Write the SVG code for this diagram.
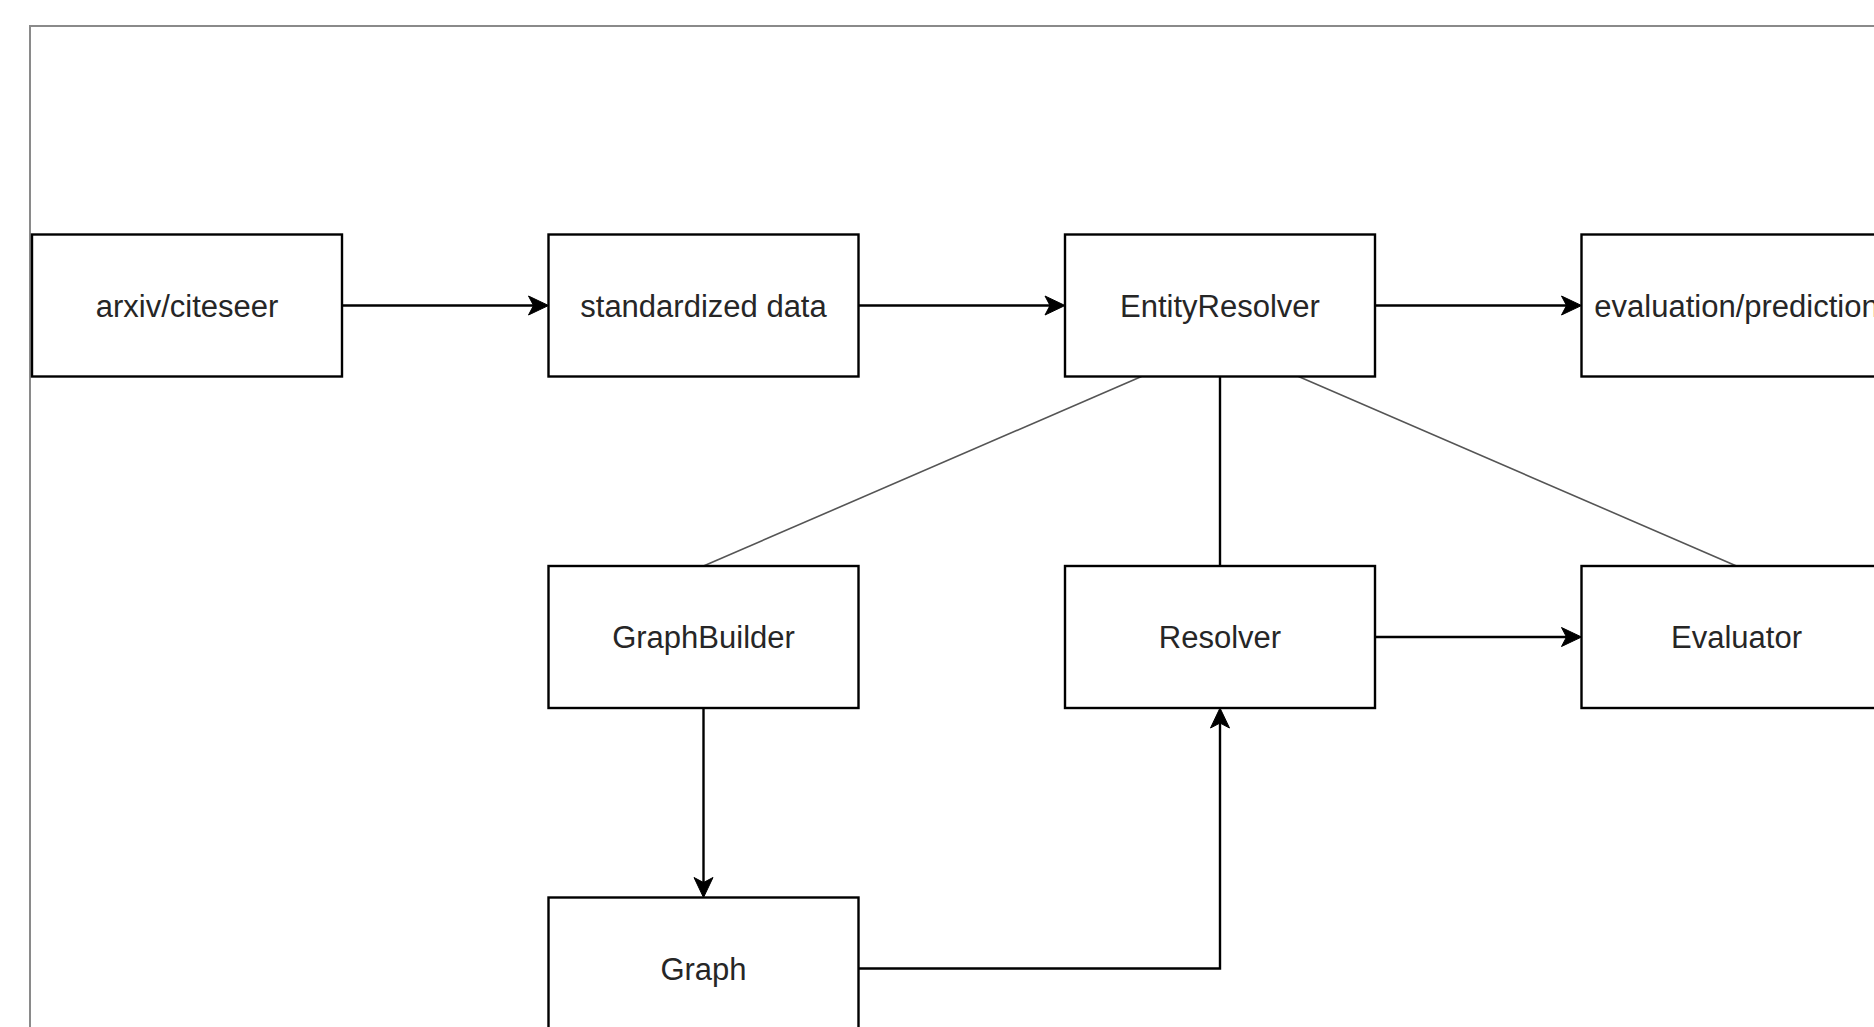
<svg xmlns="http://www.w3.org/2000/svg" width="1874" height="1027" viewBox="0 0 1874 1027">
<style>
.box{fill:#fff;stroke:#000;stroke-width:2.4}
.lbl{font-family:"Liberation Sans",Arial,sans-serif;font-size:31px;fill:#262626;text-anchor:middle}
.edge{fill:none;stroke:#000;stroke-width:2.4}
.thin{fill:none;stroke:#555;stroke-width:1.6}
</style>
<defs>
<marker id="arr" markerUnits="userSpaceOnUse" markerWidth="26" markerHeight="26" viewBox="0 0 26 26" refX="12" refY="13" orient="auto" overflow="visible">
<path d="M22,13 L2,3.5 L7,13 L2,22.5 Z" fill="#000" stroke="#000" stroke-width="1" stroke-linejoin="miter"/>
</marker>
</defs>
<rect width="1874" height="1027" fill="#fff"/>
<rect x="30" y="26" width="2000" height="1100" fill="none" stroke="#8a8a8a" stroke-width="2"/>
<g id="connectors">
<path class="edge" d="M341.5,305.5 H538.5" marker-end="url(#arr)"/>
<path class="edge" d="M858.5,305.5 H1055" marker-end="url(#arr)"/>
<path class="edge" d="M1375,305.5 H1571.5" marker-end="url(#arr)"/>
<path class="thin" d="M1141.5,376.5 L703.5,566"/>
<path class="edge" d="M1220,376.5 V566"/>
<path class="thin" d="M1298.5,376.5 L1736.5,566"/>
<path class="edge" d="M703.5,708 V887.5" marker-end="url(#arr)"/>
<path class="edge" d="M858.5,968.5 H1220 V718" marker-end="url(#arr)"/>
<path class="edge" d="M1375,637 H1571.5" marker-end="url(#arr)"/>
</g>
<g id="arxiv"><rect class="box" x="32" y="234.5" width="310" height="142"/><text class="lbl" x="187" y="316.5">arxiv/citeseer</text></g>
<g id="standardized"><rect class="box" x="548.5" y="234.5" width="310" height="142"/><text class="lbl" x="703.5" y="316.5">standardized data</text></g>
<g id="entityresolver"><rect class="box" x="1065" y="234.5" width="310" height="142"/><text class="lbl" x="1220" y="316.5">EntityResolver</text></g>
<g id="evalpred"><rect class="box" x="1581.5" y="234.5" width="310" height="142"/><text class="lbl" x="1736.5" y="316.5">evaluation/prediction</text></g>
<g id="graphbuilder"><rect class="box" x="548.5" y="566" width="310" height="142"/><text class="lbl" x="703.5" y="648">GraphBuilder</text></g>
<g id="resolver"><rect class="box" x="1065" y="566" width="310" height="142"/><text class="lbl" x="1220" y="648">Resolver</text></g>
<g id="evaluator"><rect class="box" x="1581.5" y="566" width="310" height="142"/><text class="lbl" x="1736.5" y="648">Evaluator</text></g>
<g id="graph"><rect class="box" x="548.5" y="897.5" width="310" height="142"/><text class="lbl" x="703.5" y="979.5">Graph</text></g>
</svg>
